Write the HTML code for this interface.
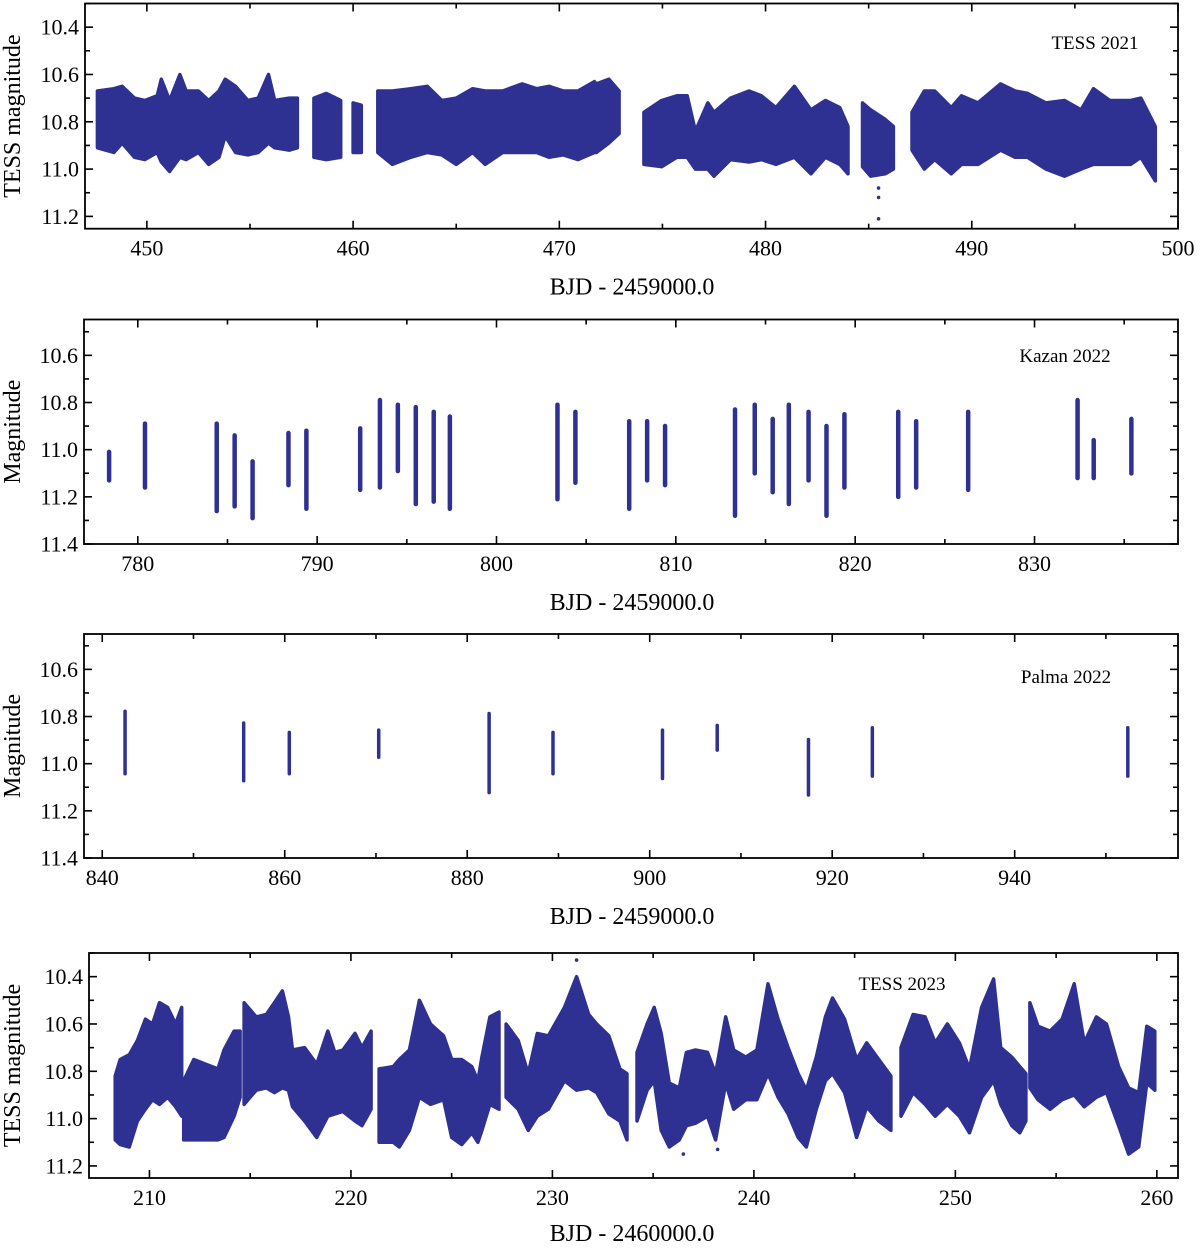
<!DOCTYPE html>
<html><head><meta charset="utf-8"><style>
html,body{margin:0;padding:0;background:#fff;}
svg text{font-family:"Liberation Serif",serif;fill:#000;}
</style></head><body>
<svg id="chart" width="1200" height="1244" viewBox="0 0 1200 1244" xmlns="http://www.w3.org/2000/svg"></svg>
<script>
// ---------- Panel 1: TESS 2021 (envelope bins; null = gap) ----------
const p1Time = [447.6,448.4,448.8,449.4,449.9,450.5,450.7,451.1,451.6,451.9,452.5,453.0,453.5,453.8,454.3,454.9,455.4,455.9,456.2,456.9,457.3,null,
 458.1,458.7,459.4,null,460.0,460.4,null,
 461.2,461.9,462.8,463.6,464.3,465.0,465.8,466.4,467.25,468.2,468.9,469.5,470.2,470.9,471.7,471.8,472.4,472.9,null,
 474.1,474.96,475.7,476.2,476.6,477.2,477.5,478.3,479.2,479.8,480.5,481.4,482.2,482.9,483.6,484.0,null,
 484.7,485.1,485.8,486.2,null,
 487.1,487.7,488.2,489.0,489.5,490.3,491.4,492.1,492.7,493.6,494.5,495.3,495.9,496.7,497.7,498.2,498.9];
const p1Bright = [10.67,10.66,10.65,10.70,10.71,10.69,10.62,10.71,10.60,10.67,10.67,10.71,10.67,10.62,10.65,10.71,10.70,10.60,10.71,10.70,10.70,null,
 10.70,10.68,10.71,null,10.72,10.73,null,
 10.67,10.67,10.66,10.65,10.71,10.70,10.66,10.67,10.67,10.64,10.66,10.65,10.67,10.67,10.63,10.64,10.62,10.67,null,
 10.76,10.71,10.69,10.69,10.84,10.72,10.76,10.70,10.67,10.69,10.74,10.65,10.75,10.71,10.74,10.82,null,
 10.72,10.75,10.79,10.82,null,
 10.76,10.67,10.67,10.74,10.69,10.72,10.64,10.67,10.68,10.72,10.71,10.75,10.66,10.71,10.71,10.70,10.82];
const p1Faint = [10.91,10.93,10.89,10.95,10.96,10.93,10.97,11.01,10.95,10.96,10.93,10.98,10.95,10.86,10.93,10.94,10.93,10.89,10.91,10.92,10.91,null,
 10.95,10.96,10.95,null,10.93,10.93,null,
 10.93,10.98,10.95,10.93,10.94,10.98,10.93,10.98,10.93,10.93,10.93,10.95,10.94,10.96,10.93,10.93,10.89,10.85,null,
 10.98,10.99,10.95,10.95,11.00,11.00,11.03,10.96,10.97,10.96,10.98,10.95,11.02,10.95,10.98,11.02,null,
 10.99,11.03,11.02,11.00,null,
 10.92,11.00,10.96,11.02,10.98,10.98,10.92,10.95,10.95,11.00,11.03,11.00,10.98,10.98,10.98,10.95,11.05];
const p1OutT = [485.48,485.48,485.48];
const p1OutM = [11.08,11.12,11.21];
const p1XTicks = [450,460,470,480,490,500];
const p1YTicks = [10.4,10.6,10.8,11.0,11.2];

// ---------- Panel 2: Kazan 2022 (nights: time, brightest, faintest) ----------
const p2Night = [778.4,780.4,784.4,785.4,786.4,788.4,789.4,792.4,793.5,794.5,795.5,796.5,797.4,803.4,804.4,807.4,808.4,809.4,813.3,814.4,815.4,816.3,817.4,818.4,819.4,822.4,823.4,826.3,832.4,833.3,835.4];
const p2Bright = [11.00,10.88,10.88,10.93,11.04,10.92,10.91,10.90,10.78,10.80,10.81,10.83,10.85,10.80,10.83,10.87,10.87,10.89,10.82,10.80,10.86,10.80,10.83,10.89,10.84,10.83,10.87,10.83,10.78,10.95,10.86];
const p2Faint = [11.14,11.17,11.27,11.25,11.30,11.16,11.26,11.18,11.17,11.10,11.24,11.23,11.26,11.22,11.15,11.26,11.14,11.16,11.29,11.11,11.19,11.24,11.14,11.29,11.17,11.21,11.17,11.18,11.13,11.13,11.11];
const p2XTicks = [780,790,800,810,820,830];
const p2YTicks = [10.6,10.8,11.0,11.2,11.4];

// ---------- Panel 3: Palma 2022 ----------
const p3Night = [842.5,855.5,860.5,870.3,882.4,889.4,901.4,907.4,917.4,924.4,952.4];
const p3Bright = [10.77,10.82,10.86,10.85,10.78,10.86,10.85,10.83,10.89,10.84,10.84];
const p3Faint = [11.05,11.08,11.05,10.98,11.13,11.05,11.07,10.95,11.14,11.06,11.06];
const p3XTicks = [840,860,880,900,920,940];
const p3YTicks = [10.6,10.8,11.0,11.2,11.4];

// ---------- Panel 4: TESS 2023 ----------
const p4Time = [208.3,208.55,209.0,209.4,209.8,210.15,210.5,210.9,211.3,211.6,null,
 211.7,212.2,212.8,213.4,213.7,214.2,214.5,null,
 214.7,215.3,215.8,216.2,216.6,216.9,217.1,217.7,218.3,218.85,219.2,219.6,220.2,220.55,221.0,null,
 221.4,222.1,222.4,222.9,223.4,223.95,224.6,225.0,225.5,226.0,226.3,226.5,226.9,227.35,null,
 227.7,228.3,228.8,229.25,229.8,230.6,231.2,231.8,232.2,232.8,233.35,233.7,null,
 234.2,234.7,235.05,235.4,235.8,236.3,236.65,237.1,237.7,238.1,238.6,239.0,239.6,240.15,240.7,241.2,241.7,242.2,242.6,243.1,243.55,243.9,244.5,245.1,245.6,246.2,246.8,null,
 247.3,247.9,248.5,249.0,249.6,250.2,250.7,251.3,251.9,252.25,252.8,253.2,253.5,null,
 253.7,254.1,254.7,255.3,255.9,256.4,257.0,257.5,258.1,258.6,259.1,259.5,259.9];
const p4Bright = [10.82,10.75,10.73,10.67,10.58,10.60,10.51,10.53,10.60,10.53,null,
 10.84,10.75,10.77,10.79,10.71,10.63,10.63,null,
 10.51,10.57,10.56,10.51,10.46,10.57,10.71,10.70,10.77,10.63,10.72,10.71,10.64,10.70,10.63,null,
 10.79,10.78,10.75,10.71,10.50,10.60,10.65,10.75,10.75,10.78,10.84,10.74,10.57,10.55,null,
 10.60,10.67,10.81,10.64,10.65,10.53,10.40,10.56,10.60,10.65,10.79,10.81,null,
 10.72,10.60,10.53,10.64,10.85,10.87,10.72,10.71,10.72,10.81,10.57,10.71,10.74,10.71,10.43,10.58,10.70,10.81,10.88,10.74,10.57,10.49,10.58,10.75,10.68,10.75,10.82,null,
 10.70,10.56,10.57,10.68,10.60,10.68,10.79,10.53,10.41,10.70,10.74,10.78,10.81,null,
 10.51,10.61,10.63,10.58,10.43,10.68,10.57,10.60,10.78,10.87,10.89,10.61,10.63];
const p4Faint = [11.09,11.11,11.12,11.01,10.96,10.92,10.94,10.91,10.95,10.99,null,
 11.09,11.09,11.09,11.09,11.08,10.99,10.91,null,
 10.94,10.88,10.87,10.89,10.87,10.88,10.95,11.01,11.08,10.99,10.98,10.97,11.01,11.03,10.96,null,
 11.10,11.10,11.12,11.05,10.91,10.94,10.92,11.08,11.11,11.06,11.10,11.05,10.94,10.96,null,
 10.91,10.96,11.05,10.99,10.96,10.84,10.88,10.87,10.89,10.98,11.01,11.09,null,
 11.01,10.88,10.84,11.05,11.12,11.09,11.03,11.02,10.99,11.09,10.85,10.96,10.92,10.92,10.81,10.91,10.98,11.08,11.12,10.96,10.84,10.81,10.89,11.08,10.95,11.01,11.05,null,
 10.99,10.89,10.94,10.99,10.94,10.99,11.06,10.91,10.84,10.94,11.03,11.06,11.01,null,
 10.87,10.92,10.96,10.92,10.90,10.95,10.91,10.89,11.03,11.15,11.12,10.85,10.88];
const p4OutT = [231.2,236.5,238.2];
const p4OutM = [10.33,11.15,11.13];
const p4XTicks = [210,220,230,240,250,260];
const p4YTicks = [10.4,10.6,10.8,11.0,11.2];

const NS = 'http://www.w3.org/2000/svg';
const svg = document.getElementById('chart');
const COLOR = '#2e3192';
function mk(tag, attrs, parent){const e=document.createElementNS(NS,tag);for(const k in attrs)e.setAttribute(k,attrs[k]);(parent||svg).appendChild(e);return e;}

function makePanel(cfg){
  const g = mk('g',{});
  
  
  const sx = v => cfg.x0 + (v - cfg.xd[0]) / (cfg.xd[1]-cfg.xd[0]) * (cfg.x1-cfg.x0);
  const sy = v => cfg.y0 + (v - cfg.yd[0]) / (cfg.yd[1]-cfg.yd[0]) * (cfg.y1-cfg.y0);
  const tg = mk('g',{stroke:'#000','stroke-width':1.6},g);
  
  
  const xs = cfg.xTicks, step = xs[1]-xs[0], minor = step/2;
  for(let v = xs[0]-step; v <= cfg.xd[1]; v += minor){
    if(v < cfg.xd[0]) continue;
    const isMaj = Math.abs(((v - xs[0])/step) - Math.round((v - xs[0])/step)) < 1e-6;
    const L = isMaj?8:5, X=sx(v);
    mk('line',{x1:X,x2:X,y1:cfg.y1,y2:cfg.y1-L},tg);
    mk('line',{x1:X,x2:X,y1:cfg.y0,y2:cfg.y0+L},tg);
  }
  const ys = cfg.yTicks, ystep = ys[1]-ys[0];
  for(let i=-2;i<=ys.length*2;i++){
    const v = ys[0] + i*ystep/2;
    if(v < cfg.yd[0]-1e-9 || v > cfg.yd[1]+1e-9) continue;
    const L = (i%2===0)?8:5, Y=sy(v);
    mk('line',{x1:cfg.x0,x2:cfg.x0+L,y1:Y,y2:Y},tg);
    mk('line',{x1:cfg.x1,x2:cfg.x1-L,y1:Y,y2:Y},tg);
  }
  xs.forEach(v=>{
    if(v > cfg.xd[1]+0.5) return;
    const t = mk('text',{x:sx(v),y:cfg.y1+27,'text-anchor':'middle','font-size':22},g);
    
    
    t.textContent = v;
  });
  ys.forEach(v=>{
    const t = mk('text',{x:cfg.x0-6,y:sy(v)+7.5,'text-anchor':'end','font-size':22},g);
    
    
    t.textContent = v.toFixed(1);
  });
  const dg = mk('g',{fill:COLOR},g);
  
  
  if(cfg.time){
    let seg=[];
    const flush=()=>{
      if(!seg.length) return;
      const top = seg.map(i=>sx(cfg.time[i]).toFixed(1)+','+sy(cfg.bright[i]).toFixed(1));
      const bot = seg.slice().reverse().map(i=>sx(cfg.time[i]).toFixed(1)+','+sy(cfg.faint[i]).toFixed(1));
      const p = mk('polygon',{points:top.concat(bot).join(' '),fill:COLOR,stroke:COLOR,'stroke-width':3.5,'stroke-linejoin':'round'},dg);
      
      
      seg=[];
    };
    cfg.time.forEach((t,i)=>{ if(t===null) flush(); else seg.push(i); });
    flush();
    (cfg.outT||[]).forEach((t,i)=>{
      const c = mk('circle',{cx:sx(t),cy:sy(cfg.outM[i]),r:1.8},dg);
      
      
    });
  } else {
    cfg.night.forEach((t,i)=>{
      const r = mk('rect',{x:sx(t)-cfg.w/2,y:sy(cfg.bright[i]),width:cfg.w,height:sy(cfg.faint[i])-sy(cfg.bright[i]),rx:cfg.w/2},dg);
      
      
    });
  }
  const f = mk('rect',{x:cfg.x0,y:cfg.y0,width:cfg.x1-cfg.x0,height:cfg.y1-cfg.y0,fill:'none',stroke:'#000','stroke-width':1.8},g);
  
  
  const xt = mk('text',{x:632,y:cfg.y1+cfg.tOff,'text-anchor':'middle','font-size':24},g);
  
  
  xt.textContent = cfg.xTitle;
  const cy=(cfg.y0+cfg.y1)/2;
  const yt = mk('text',{x:20,y:cy,'text-anchor':'middle','font-size':24,transform:'rotate(-90 20 '+cy+')'},g);
  
  
  yt.textContent = cfg.yTitle;
  const lb = mk('text',{x:cfg.lx,y:cfg.ly,'text-anchor':'middle','font-size':19},g);
  
  
  lb.textContent = cfg.label;
}

makePanel({name:'tess-2021-panel',x0:85,x1:1178,y0:3.5,y1:228.7,xd:[447,500],yd:[10.30,11.252],
  xTicks:p1XTicks,yTicks:p1YTicks,time:p1Time,bright:p1Bright,faint:p1Faint,outT:p1OutT,outM:p1OutM,tOff:66,
  xTitle:'BJD - 2459000.0',yTitle:'TESS magnitude',label:'TESS 2021',lx:1095,ly:49});
makePanel({name:'kazan-2022-panel',x0:84,x1:1178,y0:319.5,y1:544,xd:[777,838],yd:[10.448,11.4],
  xTicks:p2XTicks,yTicks:p2YTicks,night:p2Night,bright:p2Bright,faint:p2Faint,w:4.5,tOff:66,
  xTitle:'BJD - 2459000.0',yTitle:'Magnitude',label:'Kazan 2022',lx:1065,ly:362});
makePanel({name:'palma-2022-panel',x0:84,x1:1178,y0:634,y1:858,xd:[838,957.9],yd:[10.45,11.4],
  xTicks:p3XTicks,yTicks:p3YTicks,night:p3Night,bright:p3Bright,faint:p3Faint,w:3.5,tOff:66,
  xTitle:'BJD - 2459000.0',yTitle:'Magnitude',label:'Palma 2022',lx:1066,ly:683});
makePanel({name:'tess-2023-panel',x0:89,x1:1178,y0:953,y1:1178,xd:[207,261.05],yd:[10.30,11.251],
  xTicks:p4XTicks,yTicks:p4YTicks,time:p4Time,bright:p4Bright,faint:p4Faint,outT:p4OutT,outM:p4OutM,tOff:63,
  xTitle:'BJD - 2460000.0',yTitle:'TESS magnitude',label:'TESS 2023',lx:902,ly:990});
</script>
</body></html>
